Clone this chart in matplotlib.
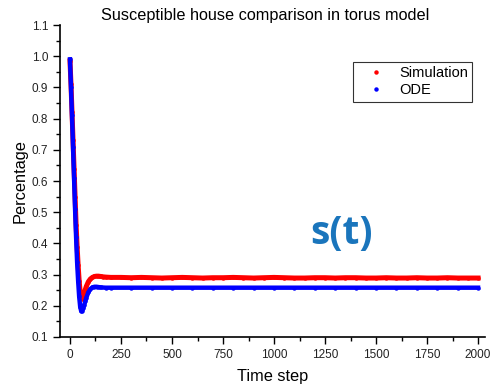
import matplotlib
matplotlib.use("Agg")
import matplotlib.pyplot as plt
from matplotlib.ticker import MultipleLocator

plt.rcParams['font.family'] = ['Liberation Sans', 'DejaVu Sans']

# simulation (time step, susceptible fraction)
t_sim = [0, 5, 10, 15, 20, 25, 30, 35, 40, 45, 50, 55, 60, 65, 70, 75, 80, 90,
         100, 110, 120, 130, 140, 150, 160, 175, 200,
         250, 300, 350, 400, 450, 500, 550, 600, 650, 700, 750, 800, 850, 900,
         950, 1000, 1050, 1100, 1150, 1200, 1250, 1300, 1350, 1400, 1450, 1500,
         1550, 1600, 1650, 1700, 1750, 1800, 1850, 1900, 1950, 2000]
s_sim = [0.985, 0.91, 0.82, 0.73, 0.64, 0.55, 0.46, 0.39, 0.33, 0.28, 0.245,
         0.225, 0.222, 0.228, 0.240, 0.252, 0.262, 0.277, 0.286, 0.291, 0.294,
         0.295, 0.295, 0.294, 0.293, 0.292, 0.291,
         0.291, 0.290, 0.291, 0.290, 0.289, 0.290, 0.291, 0.290, 0.289, 0.290,
         0.290, 0.291, 0.290, 0.289, 0.290, 0.291, 0.290, 0.289, 0.289, 0.290,
         0.290, 0.289, 0.290, 0.290, 0.289, 0.289, 0.290, 0.289, 0.289, 0.290,
         0.289, 0.289, 0.290, 0.289, 0.289, 0.289]

# ODE solution
t_ode = [0, 5, 10, 15, 20, 25, 30, 35, 40, 45, 50, 55, 60, 65, 70, 75, 80, 90,
         100, 110, 120, 130, 140, 150, 175, 200,
         300, 400, 500, 600, 700, 800, 900, 1000, 1100, 1200, 1300, 1400,
         1500, 1600, 1700, 1800, 1900, 2000]
s_ode = [0.99, 0.90, 0.81, 0.71, 0.61, 0.51, 0.42, 0.34, 0.28, 0.23, 0.197,
         0.183, 0.184, 0.192, 0.203, 0.215, 0.226, 0.243, 0.254, 0.259, 0.261,
         0.261, 0.260, 0.259, 0.258, 0.258,
         0.258, 0.258, 0.258, 0.258, 0.258, 0.258, 0.258, 0.258, 0.258, 0.258,
         0.258, 0.258, 0.258, 0.258, 0.258, 0.258, 0.258, 0.258]

fig = plt.figure(figsize=(4.9, 3.89), dpi=100)
ax = fig.add_axes([0.1224, 0.1337, 0.8674, 0.8020])

ax.plot(t_sim, s_sim, color='#ff0000', marker='o', ms=3.2, mec='none',
        lw=3.6, label='Simulation')
ax.plot(t_ode, s_ode, color='#0000ff', marker='o', ms=3.2, mec='none',
        lw=3.2, label='ODE')

ax.set_xlim(-49, 2034)
ax.set_ylim(0.1, 1.1)
ax.xaxis.set_major_locator(MultipleLocator(250))
ax.xaxis.set_minor_locator(MultipleLocator(125))
ax.yaxis.set_major_locator(MultipleLocator(0.1))
ax.yaxis.set_minor_locator(MultipleLocator(0.05))
ax.tick_params(which='major', direction='out', length=5, width=1,
               labelsize=8.5, labelcolor='#222222')
ax.tick_params(which='minor', direction='out', length=3, width=1)
for s in ['top', 'right']:
    ax.spines[s].set_visible(False)
for s in ['left', 'bottom']:
    ax.spines[s].set_linewidth(1.2)

ax.set_xlabel('Time step', fontsize=11.8, labelpad=6)
ax.set_ylabel('Percentage', fontsize=11.8, labelpad=3)
fig.text(0.541, 0.961, 'Susceptible house comparison in torus model',
         fontsize=11.7, ha='center', va='center')

leg = ax.legend(loc='upper left', bbox_to_anchor=(353 / 490, 1 - 62 / 389),
                bbox_transform=fig.transFigure, borderaxespad=0,
                fontsize=10.5, frameon=True, fancybox=False,
                edgecolor='black', handlelength=2.6, handletextpad=0.25,
                borderpad=0.3, labelspacing=0.2)
leg.get_frame().set_linewidth(0.8)
for h in leg.legend_handles:
    h.set_linestyle('none')

fig.text(310 / 490, 1 - 244 / 389, 's(t)', fontsize=28, fontweight='bold',
         color='#1a75bc', family='Open Sans', va='baseline')

fig.savefig('out.png', dpi=100)
